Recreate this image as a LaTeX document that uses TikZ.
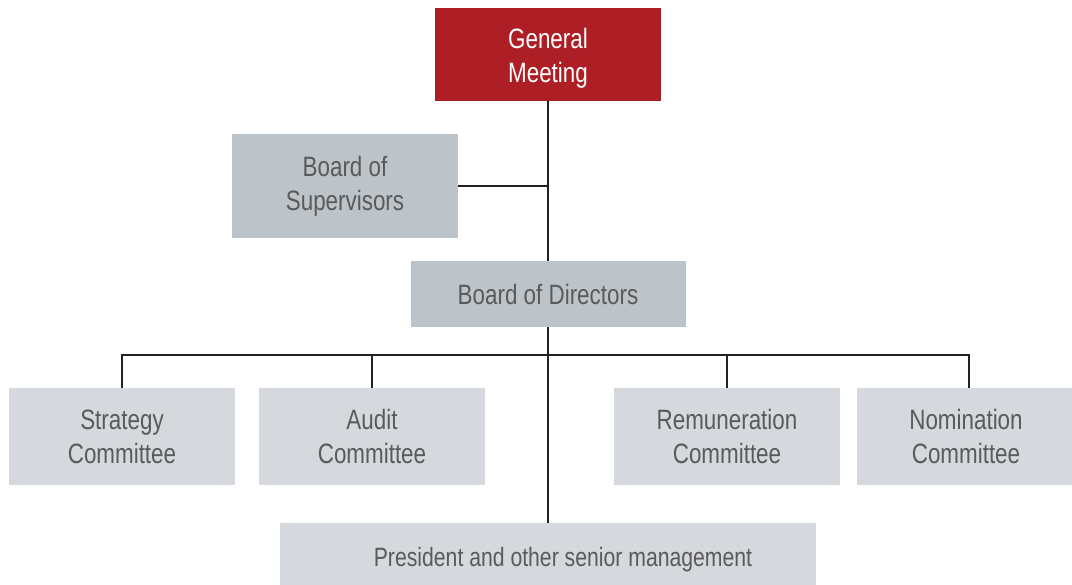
\documentclass[tikz,border=0pt]{standalone}
\usepackage{fontspec}
\setmainfont[FakeStretch=0.8]{Liberation Sans}
\definecolor{gmred}{HTML}{AD1F25}
\definecolor{boxdark}{HTML}{BCC3C9}
\definecolor{boxlight}{HTML}{D5D8DC}
\definecolor{txtgray}{HTML}{5A5A5A}
\definecolor{linecol}{HTML}{222222}
\begin{document}
\begin{tikzpicture}[x=1pt,y=-1pt,
  box/.style={inner sep=0pt, align=center, font=\fontsize{28}{34}\selectfont},
  redbox/.style={box, fill=gmred, text=white},
  darkbox/.style={box, fill=boxdark, text=txtgray},
  lightbox/.style={box, fill=boxlight, text=txtgray},
  conn/.style={draw=linecol, line width=1.2pt}]
\useasboundingbox (0,0) rectangle (1072,585);
\node[redbox, minimum width=226pt, minimum height=93pt] (gm) at (548,54.5) {\rule{0pt}{27pt}General\\Meeting};
\node[darkbox, minimum width=226pt, minimum height=104pt] (sup) at (345,186) {Board of\\Supervisors};
\node[darkbox, minimum width=275pt, minimum height=66pt] (bod) at (548,294) {Board of Directors};
\node[lightbox, minimum width=226pt, minimum height=97pt] (strat) at (122,436.5) {Strategy\\Committee};
\node[lightbox, minimum width=226pt, minimum height=97pt] (audit) at (372,436.5) {Audit\\Committee};
\node[lightbox, minimum width=226pt, minimum height=97pt] (rem) at (727,436.5) {Remuneration\\Committee};
\node[lightbox, minimum width=224pt, minimum height=97pt, text width=215pt] (nom) at (969,436.5) {\hspace*{-6pt}Nomination\\\hspace*{-6pt}Committee};
\node[lightbox, minimum width=536pt, minimum height=62pt, font=\fontsize{26.5}{32}\selectfont] (pres) at (548,554) {\hspace*{30pt}\rule{0pt}{30pt}President and other senior management};
\coordinate (bus) at (548,355);
\draw[conn] (gm.south) -- (bod.north);
\draw[conn] (bod.south) -- (pres.north);
\draw[conn] (sup.east) -- (sup.east -| gm.south);
\draw[conn] (bus) -| (strat.north);
\draw[conn] (bus) -| (audit.north);
\draw[conn] (bus) -| (rem.north);
\draw[conn] (bus) -| (nom.north);
\end{tikzpicture}
\end{document}
